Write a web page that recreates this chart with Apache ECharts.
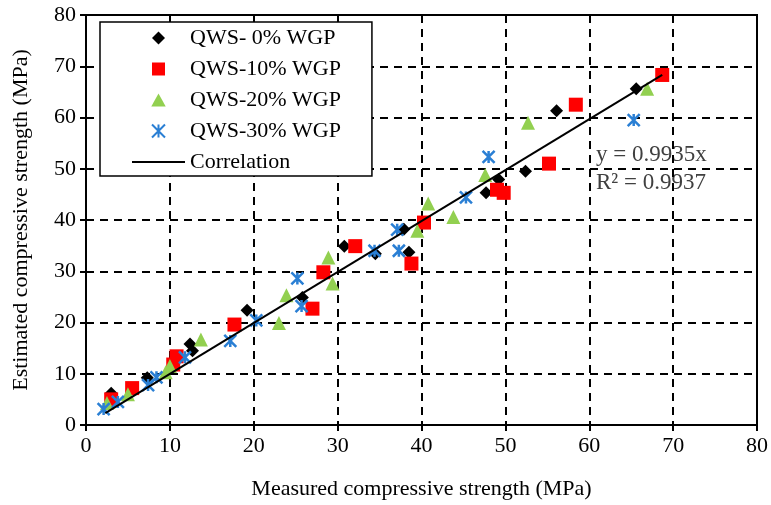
<!DOCTYPE html>
<html>
<head>
<meta charset="utf-8">
<script src="https://cdn.jsdelivr.net/npm/echarts@6/dist/echarts.min.js"></script>
<style>
  html, body { margin: 0; padding: 0; background: #fff; }
  #chart { width: 771px; height: 505px; }
</style>
</head>
<body>
<div id="chart"></div>
<script>
// measured vs estimated strength (MPa)
const qws0 = [[3.0, 6.2], [7.3, 9.2], [12.4, 15.8], [12.7, 14.5], [19.2, 22.4], [25.8, 24.9], [30.8, 34.9], [34.5, 33.4], [37.9, 38.2], [38.5, 33.7], [47.7, 45.3], [49.2, 47.9], [52.4, 49.5], [56.1, 61.3], [65.6, 65.6]]
const qws10 = [[3.0, 5.0], [5.5, 7.2], [10.4, 11.8], [10.8, 13.4], [17.7, 19.6], [27.0, 22.7], [28.3, 29.8], [32.1, 34.9], [38.8, 31.5], [40.3, 39.5], [49.0, 45.9], [49.8, 45.3], [55.2, 51.0], [58.4, 62.5], [68.7, 68.3]]
const qws20 = [[2.5, 4.3], [5.0, 6.0], [9.5, 10.3], [10.0, 11.5], [13.7, 16.7], [23.0, 19.9], [23.9, 25.3], [28.9, 32.7], [29.4, 27.6], [39.5, 37.9], [40.8, 43.2], [43.8, 40.6], [47.6, 48.8], [52.7, 59.0], [66.9, 65.6]]
const qws30 = [[2.1, 3.1], [3.8, 4.5], [7.4, 7.8], [8.4, 9.3], [11.8, 13.2], [17.2, 16.4], [20.3, 20.4], [25.2, 28.6], [25.7, 23.2], [34.4, 34.0], [37.3, 34.0], [37.1, 38.1], [45.3, 44.4], [48.0, 52.3], [65.3, 59.5]]
const correlation = [[2.3, 2.3], [68.7, 68.3]]
const seriesNames = ['QWS- 0% WGP', 'QWS-10% WGP', 'QWS-20% WGP', 'QWS-30% WGP', 'Correlation']
const equationLines = ['y = 0.9935x', 'R² = 0.9937']

const font = 'Liberation Serif'
const diamondPath = 'path://M5,0L10,5L5,10L0,5Z'
const squarePath = 'path://M0,0L10,0L10,10L0,10Z'
const trianglePath = 'path://M5,0L10,9L0,9Z'
const crossPath = 'path://M0,0L10,10M10,0L0,10M5,0L5,10'
const chart = echarts.init(document.getElementById('chart'))

const gridLine = {
  show: true,
  lineStyle: { color: '#000', width: 2, type: [8, 6] }
}
const axisLine = { show: true, onZero: false, lineStyle: { color: '#000', width: 2 } }

chart.setOption({
  animation: false,
  grid: { left: 86, right: 12, top: 15, bottom: 79, show: true, borderColor: '#000', borderWidth: 2 },
  xAxis: {
    type: 'value',
    min: 0,
    max: 80,
    interval: 10,
    name: 'Measured compressive strength (MPa)',
    nameLocation: 'middle',
    nameGap: 53,
    nameTextStyle: { fontFamily: font, fontSize: 22, color: '#000' },
    axisLine: axisLine,
    axisTick: { show: true, length: 6, lineStyle: { color: '#000', width: 2 } },
    axisLabel: { fontFamily: font, fontSize: 22, color: '#000', margin: 10 },
    splitLine: gridLine
  },
  yAxis: {
    type: 'value',
    min: 0,
    max: 80,
    interval: 10,
    name: 'Estimated compressive strength (MPa)',
    nameLocation: 'middle',
    nameGap: 54,
    nameTextStyle: { fontFamily: font, fontSize: 22, color: '#000' },
    axisLine: axisLine,
    axisTick: { show: true, length: 6, lineStyle: { color: '#000', width: 2 } },
    axisLabel: { fontFamily: font, fontSize: 22, color: '#000', margin: 10 },
    splitLine: gridLine
  },
  legend: {
    orient: 'vertical',
    left: 100,
    top: 22,
    padding: [5, 31, 3, 32],
    itemWidth: 53,
    itemHeight: 13,
    itemGap: 9,
    backgroundColor: '#fff',
    borderColor: '#000',
    borderWidth: 1.5,
    textStyle: { fontFamily: font, fontSize: 22, color: '#000' },
    data: [
      { name: seriesNames[0], icon: diamondPath },
      { name: seriesNames[1], icon: squarePath },
      { name: seriesNames[2], icon: trianglePath },
      { name: seriesNames[3], icon: crossPath },
      { name: seriesNames[4], icon: 'path://M0,0L53,0L53,2L0,2Z' }
    ]
  },
  graphic: [
    {
      type: 'text',
      left: 596,
      top: 141,
      style: {
        text: equationLines.join('\n'),
        fontFamily: font,
        fontSize: 23,
        lineHeight: 28,
        fill: '#404040'
      }
    }
  ],
  series: [
    {
      name: seriesNames[0],
      type: 'scatter',
      symbol: 'diamond',
      symbolSize: 13,
      itemStyle: { color: '#000', opacity: 1 },
      data: qws0
    },
    {
      name: seriesNames[1],
      type: 'scatter',
      symbol: 'rect',
      symbolSize: 14,
      itemStyle: { color: '#ff0000', opacity: 1 },
      data: qws10
    },
    {
      name: seriesNames[2],
      type: 'scatter',
      symbol: 'triangle',
      symbolSize: 14,
      itemStyle: { color: '#92d050', opacity: 1 },
      data: qws20
    },
    {
      name: seriesNames[3],
      type: 'scatter',
      symbol: crossPath,
      symbolSize: 12,
      itemStyle: { color: 'rgba(0,0,0,0)', borderColor: '#2a7fd4', borderWidth: 2.5, opacity: 1 },
      data: qws30
    },
    {
      name: seriesNames[4],
      type: 'line',
      symbol: 'none',
      showSymbol: false,
      lineStyle: { color: '#000', width: 2 },
      itemStyle: { color: '#000' },
      z: 5,
      data: correlation
    }
  ]
})
</script>
</body>
</html>
